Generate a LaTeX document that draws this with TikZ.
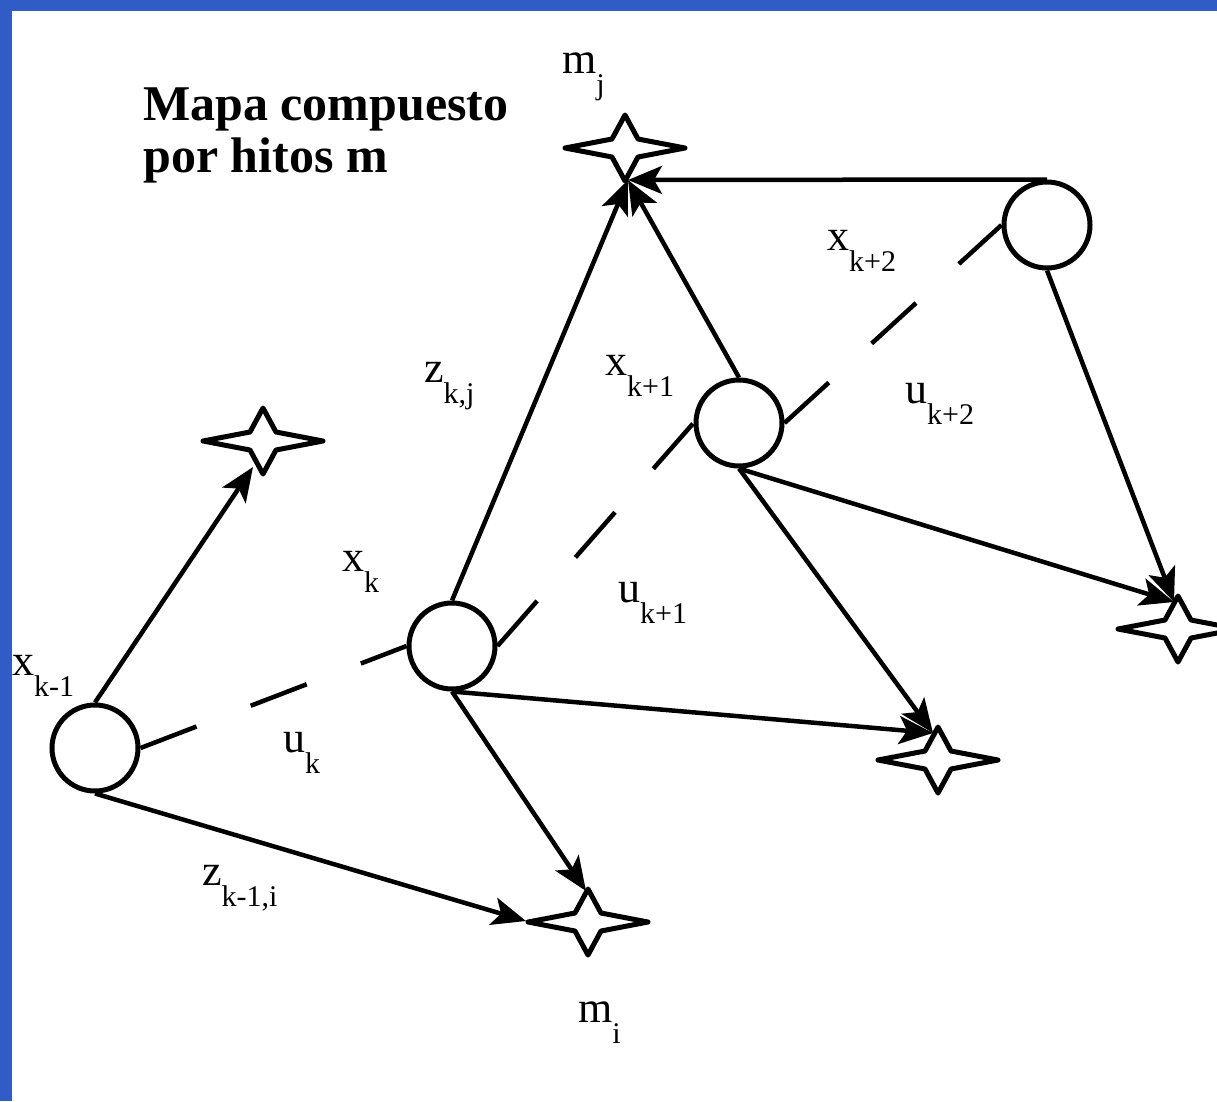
\documentclass[tikz,border=0pt]{standalone}
\usepackage{fontspec}
\setmainfont{Liberation Serif}
\usetikzlibrary{arrows.meta,calc}
\definecolor{frameblue}{RGB}{49,92,198}
\newcommand\sublbl[2]{#1\raisebox{-21pt}{\fontsize{30}{30}\selectfont #2}}
\tikzset{
  pose/.style={circle, draw, line width=5pt, minimum size=86pt, inner sep=0pt, fill=white},
  conn/.style={line width=4.5pt, -{Stealth[length=34pt,width=28pt,inset=8pt]}},
  odo/.style={line width=4.5pt, dash pattern=on 60pt off 58pt},
  lbl/.style={anchor=base west, inner sep=0pt, font=\fontsize{44}{44}\selectfont},
  titletxt/.style={anchor=base west, inner sep=0pt, font=\bfseries\fontsize{50}{52}\selectfont},
  hito/.pic={\draw[line width=5pt, fill=white, line join=round]
     (-60,0) -- (-13,-9) -- (0,-33) -- (13,-9) -- (60,0) -- (13,9) -- (0,33) -- (-13,9) -- cycle;}
}
\begin{document}
\begin{tikzpicture}[x=1pt,y=-1pt]
\useasboundingbox (0,0) rectangle (1217,1101);
\fill[white] (0,0) rectangle (1217,1101);
\fill[frameblue] (0,0) rectangle (1217,11);
\fill[frameblue] (0,0) rectangle (12,1101);

% title
\node[titletxt] (title1) at (143,120) {Mapa compuesto};
\node[titletxt] (title2) at (143,172) {por hitos m};

% landmarks (stars)
\coordinate (sA) at (263,441);
\coordinate (mi) at (588,922);
\coordinate (mj) at (625,148);
\coordinate (sC) at (938,760);
\coordinate (sD) at (1178,629);
\foreach \s in {sA,mi,mj,sC,sD} { \pic at (\s) {hito}; }

% arrow targets on the stars
\coordinate (tA) at (253,467);
\coordinate (tmiL) at (526,921);
\coordinate (tmiT) at (586,891);
\coordinate (tmj) at (628,180);
\coordinate (tC) at (933,733);
\coordinate (tD) at (1174,602);

% poses
\node[pose] (X0) at (95,748) {};
\node[pose] (X1) at (452,646) {};
\node[pose] (X2) at (739,423) {};
\node[pose] (X3) at (1047,225) {};

% odometry (dashed)
\draw[odo] (X0.east) -- (X1.west);
\draw[odo] (X1.east) -- (X2.west);
\draw[odo] (X2.east) -- (X3.west);

% observations
\draw[conn] (X0.north) -- (tA);
\draw[conn] (X0.south) -- (tmiL);
\draw[conn] (X1.north) -- (tmj);
\draw[conn] (X2.north) -- (tmj);
\draw[conn] (X3.north) -- (tmj);
\draw[conn] (X3.south) -- (tD);
\draw[conn] (X2.south) -- (tC);
\draw[conn] (X2.south) -- (tD);
\draw[conn] (X1.south) -- (tmiT);
\draw[conn] (X1.south) -- (tC);

% labels
\node[lbl] (lmj) at (562,73) {\sublbl{m}{j}};
\node[lbl] (lmi) at (578,1022) {\sublbl{m}{i}};
\node[lbl] (lzkj) at (424,382) {\sublbl{z}{k,j}};
\node[lbl] (lxk1) at (605,375) {\sublbl{x}{k+1}};
\node[lbl] (lxk2) at (827,250) {\sublbl{x}{k+2}};
\node[lbl] (luk2) at (905,403) {\sublbl{u}{k+2}};
\node[lbl] (lxk) at (342,571) {\sublbl{x}{k}};
\node[lbl] (luk1) at (618,602) {\sublbl{u}{k+1}};
\node[lbl] (lxkm) at (12,675) {\sublbl{x}{k-1}};
\node[lbl] (luk) at (283,752) {\sublbl{u}{k}};
\node[lbl] (lzki) at (202,885) {\sublbl{z}{k-1,i}};
\end{tikzpicture}
\end{document}
